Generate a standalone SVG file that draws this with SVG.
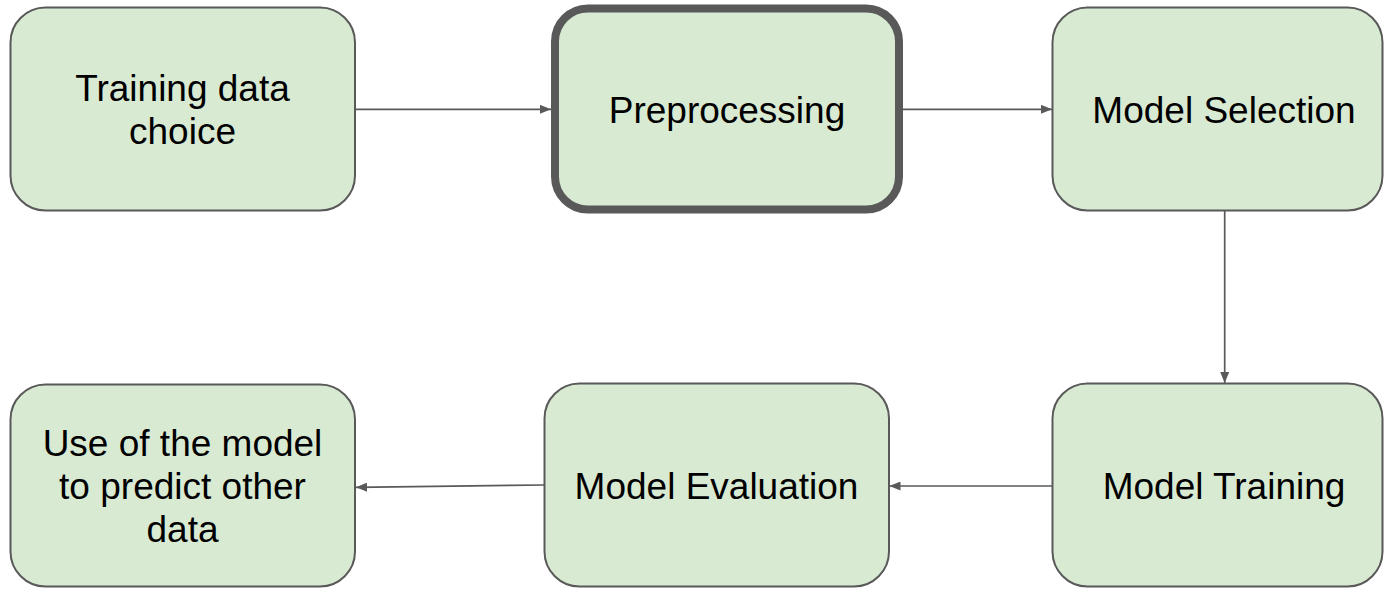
<svg xmlns="http://www.w3.org/2000/svg" width="1384" height="589" viewBox="0 0 1384 589">
  <style>
    .box { fill: #d9ead3; stroke: #595959; stroke-width: 2; }
    .bold { stroke-width: 8; }
    .lbl { font-family: "Liberation Sans", Arial, sans-serif; font-size: 37px; fill: #000000; text-anchor: middle; }
    .conn { stroke: #595959; stroke-width: 1.7; fill: none; marker-end: url(#arr); }
  </style>
  <defs>
    <marker id="arr" markerUnits="userSpaceOnUse" markerWidth="11" markerHeight="9" refX="11" refY="4.5" orient="auto">
      <path d="M0,0 L11,4.5 L0,9 z" fill="#595959"/>
    </marker>
  </defs>
  <rect width="1384" height="589" fill="#ffffff"/>
  <g id="connectors">
    <line class="conn" x1="355" y1="109.3" x2="551" y2="109.3"/>
    <line class="conn" x1="903" y1="109.3" x2="1052" y2="109.3"/>
    <line class="conn" x1="1224.7" y1="211" x2="1224.7" y2="383"/>
    <line class="conn" x1="1052" y1="486" x2="889.5" y2="486"/>
    <line class="conn" x1="544" y1="485" x2="356" y2="487.3"/>
  </g>
  <g id="node-training-data">
    <rect class="box" x="10.5" y="7.5" width="344.5" height="203" rx="35" ry="35"/>
    <text class="lbl" x="182.5" y="100.5">Training data</text>
    <text class="lbl" x="182.5" y="143.5">choice</text>
  </g>
  <g id="node-preprocessing">
    <rect class="box bold" x="555" y="8.5" width="344" height="201" rx="33" ry="33"/>
    <text class="lbl" x="727" y="122.5">Preprocessing</text>
  </g>
  <g id="node-model-selection">
    <rect class="box" x="1052.5" y="7.5" width="330" height="203" rx="35" ry="35"/>
    <text class="lbl" x="1224" y="122.5">Model Selection</text>
  </g>
  <g id="node-model-training">
    <rect class="box" x="1052.5" y="383.5" width="330" height="203" rx="35" ry="35"/>
    <text class="lbl" x="1224" y="499">Model Training</text>
  </g>
  <g id="node-model-evaluation">
    <rect class="box" x="544.5" y="383.5" width="344.5" height="203" rx="35" ry="35"/>
    <text class="lbl" x="716.5" y="499">Model Evaluation</text>
  </g>
  <g id="node-use-model">
    <rect class="box" x="10.5" y="384.5" width="344.5" height="202" rx="35" ry="35"/>
    <text class="lbl" x="182.5" y="456">Use of the model</text>
    <text class="lbl" x="182.5" y="499">to predict other</text>
    <text class="lbl" x="182.5" y="542">data</text>
  </g>
</svg>
